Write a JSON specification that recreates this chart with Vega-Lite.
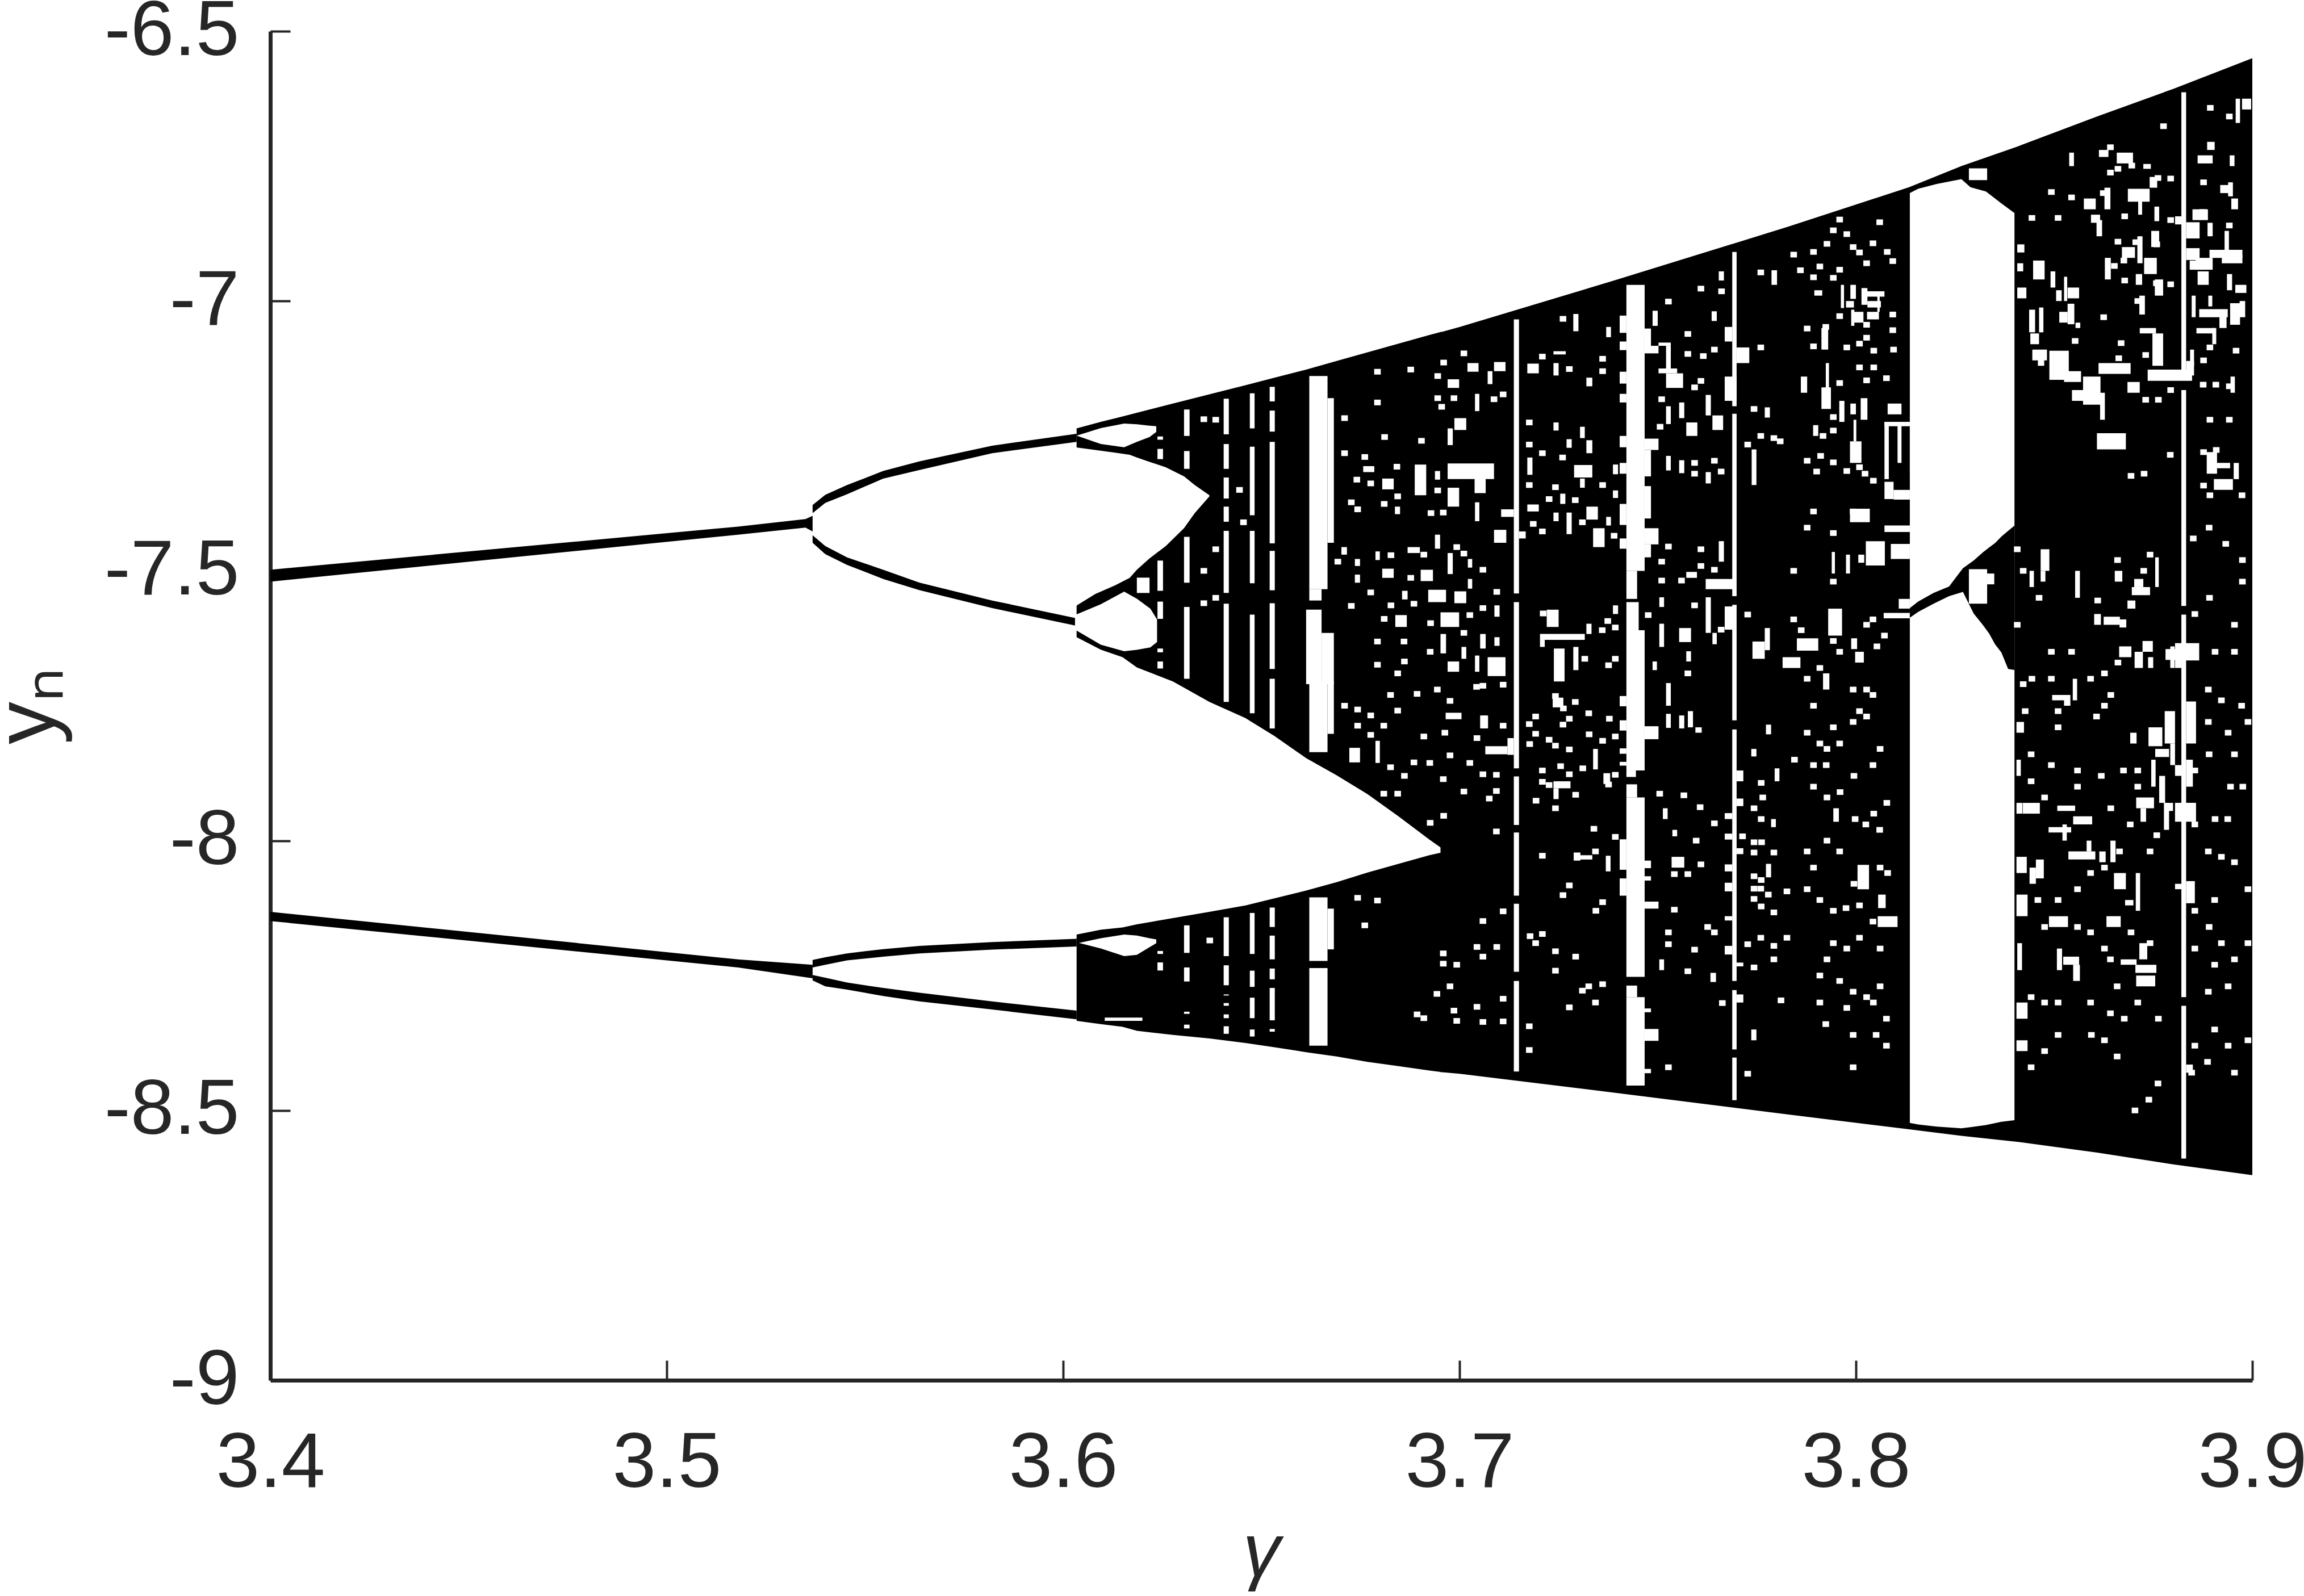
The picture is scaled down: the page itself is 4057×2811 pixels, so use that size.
{"$schema":"https://vega.github.io/schema/vega-lite/v6.json","autosize":"none","width":3490,"height":2376,"padding":{"left":476,"top":55,"right":91,"bottom":380},"background":"white","config":{"view":{"stroke":null}},
"datasets":{
"black":[
{"s":"u0","g":3.4,"t":-7.498,"b":-7.52},{"s":"u0","g":3.518,"t":-7.418,"b":-7.433},{"s":"u0","g":3.535,"t":-7.404,"b":-7.42},{"s":"u0","g":3.5368,"t":-7.398,"b":-7.427},
{"s":"u1","g":3.5368,"t":-7.378,"b":-7.393},{"s":"u1","g":3.54,"t":-7.359,"b":-7.374},{"s":"u1","g":3.5455,"t":-7.341,"b":-7.358},{"s":"u1","g":3.5546,"t":-7.315,"b":-7.329},{"s":"u1","g":3.5638,"t":-7.297,"b":-7.313},{"s":"u1","g":3.5821,"t":-7.268,"b":-7.282},{"s":"u1","g":3.6034,"t":-7.246,"b":-7.261},
{"s":"u2","g":3.5368,"t":-7.434,"b":-7.448},{"s":"u2","g":3.54,"t":-7.454,"b":-7.469},{"s":"u2","g":3.5455,"t":-7.475,"b":-7.489},{"s":"u2","g":3.5546,"t":-7.498,"b":-7.515},{"s":"u2","g":3.5638,"t":-7.522,"b":-7.536},{"s":"u2","g":3.5821,"t":-7.555,"b":-7.569},{"s":"u2","g":3.6034,"t":-7.588,"b":-7.602},
{"s":"l0","g":3.4,"t":-8.132,"b":-8.149},{"s":"l0","g":3.518,"t":-8.22,"b":-8.235},{"s":"l0","g":3.5368,"t":-8.23,"b":-8.255},
{"s":"l1","g":3.5368,"t":-8.221,"b":-8.235},{"s":"l1","g":3.54,"t":-8.216,"b":-8.23},{"s":"l1","g":3.5455,"t":-8.209,"b":-8.222},{"s":"l1","g":3.5546,"t":-8.201,"b":-8.215},{"s":"l1","g":3.5638,"t":-8.195,"b":-8.209},{"s":"l1","g":3.5821,"t":-8.188,"b":-8.202},{"s":"l1","g":3.6034,"t":-8.182,"b":-8.196},
{"s":"l2","g":3.5368,"t":-8.249,"b":-8.259},{"s":"l2","g":3.54,"t":-8.254,"b":-8.27},{"s":"l2","g":3.5455,"t":-8.263,"b":-8.276},{"s":"l2","g":3.5546,"t":-8.273,"b":-8.288},{"s":"l2","g":3.5638,"t":-8.282,"b":-8.298},{"s":"l2","g":3.5821,"t":-8.298,"b":-8.313},{"s":"l2","g":3.6034,"t":-8.315,"b":-8.331},
{"s":"U","g":3.6034,"t":-7.236,"b":-7.623},{"s":"U","g":3.6095,"t":-7.224,"b":-7.646},{"s":"U","g":3.615,"t":-7.214,"b":-7.66},{"s":"U","g":3.6186,"t":-7.207,"b":-7.679},{"s":"U","g":3.6277,"t":-7.19,"b":-7.705},{"s":"U","g":3.6369,"t":-7.173,"b":-7.743},{"s":"U","g":3.646,"t":-7.156,"b":-7.773},{"s":"U","g":3.6533,"t":-7.142,"b":-7.806},{"s":"U","g":3.6613,"t":-7.127,"b":-7.847},{"s":"U","g":3.669,"t":-7.111,"b":-7.879},{"s":"U","g":3.6768,"t":-7.095,"b":-7.914},{"s":"U","g":3.6846,"t":-7.079,"b":-7.955},{"s":"U","g":3.6924,"t":-7.063,"b":-7.998},{"s":"U","g":3.6955,"t":-7.057,"b":-8.014},
{"s":"L","g":3.6034,"t":-8.174,"b":-8.334},{"s":"L","g":3.6095,"t":-8.165,"b":-8.34},{"s":"L","g":3.615,"t":-8.161,"b":-8.345},{"s":"L","g":3.6186,"t":-8.155,"b":-8.3525},{"s":"L","g":3.6277,"t":-8.1435,"b":-8.36},{"s":"L","g":3.6369,"t":-8.132,"b":-8.3666},{"s":"L","g":3.646,"t":-8.12,"b":-8.375},{"s":"L","g":3.6533,"t":-8.107,"b":-8.383},{"s":"L","g":3.6613,"t":-8.0925,"b":-8.392},{"s":"L","g":3.669,"t":-8.077,"b":-8.4},{"s":"L","g":3.6768,"t":-8.059,"b":-8.41},{"s":"L","g":3.6846,"t":-8.043,"b":-8.418},{"s":"L","g":3.6924,"t":-8.027,"b":-8.426},{"s":"L","g":3.6955,"t":-8.022,"b":-8.429},
{"s":"M","g":3.6952,"t":-7.058,"b":-8.429},{"s":"M","g":3.7001,"t":-7.048,"b":-8.432},{"s":"M","g":3.739,"t":-6.962,"b":-8.467},{"s":"M","g":3.783,"t":-6.862,"b":-8.5075},{"s":"M","g":3.8134,"t":-6.789,"b":-8.535},{"s":"M","g":3.8266,"t":-6.75,"b":-8.547},{"s":"M","g":3.8406,"t":-6.714,"b":-8.558},{"s":"M","g":3.8608,"t":-6.658,"b":-8.578},{"s":"M","g":3.88,"t":-6.607,"b":-8.6},{"s":"M","g":3.9,"t":-6.55,"b":-8.62}],
"holes":[
{"s":"big","g":3.603,"t":-7.271,"b":-7.566},{"s":"big","g":3.6081,"t":-7.276,"b":-7.543},{"s":"big","g":3.6131,"t":-7.281,"b":-7.527},{"s":"big","g":3.6168,"t":-7.285,"b":-7.513},{"s":"big","g":3.6186,"t":-7.29,"b":-7.498},{"s":"big","g":3.6218,"t":-7.298,"b":-7.477},{"s":"big","g":3.6259,"t":-7.308,"b":-7.454},{"s":"big","g":3.6305,"t":-7.325,"b":-7.421},{"s":"big","g":3.6332,"t":-7.341,"b":-7.393},{"s":"big","g":3.6369,"t":-7.36,"b":-7.362},
{"s":"a","g":3.6034,"t":-7.2495,"b":-7.2495},{"s":"a","g":3.6095,"t":-7.2355,"b":-7.265},{"s":"a","g":3.6154,"t":-7.227,"b":-7.271},{"s":"a","g":3.6186,"t":-7.2284,"b":-7.261},{"s":"a","g":3.6218,"t":-7.231,"b":-7.252},{"s":"a","g":3.6235,"t":-7.232,"b":-7.2425},
{"s":"c","g":3.603,"t":-7.582,"b":-7.609},{"s":"c","g":3.6095,"t":-7.562,"b":-7.637},{"s":"c","g":3.6154,"t":-7.5384,"b":-7.649},{"s":"c","g":3.6186,"t":-7.5516,"b":-7.6464},{"s":"c","g":3.622,"t":-7.57,"b":-7.642},{"s":"c","g":3.6237,"t":-7.59,"b":-7.632},
{"s":"d","g":3.604,"t":-8.1895,"b":-8.1895},{"s":"d","g":3.6095,"t":-8.181,"b":-8.1999},{"s":"d","g":3.6154,"t":-8.174,"b":-8.214},{"s":"d","g":3.6186,"t":-8.176,"b":-8.2116},{"s":"d","g":3.6218,"t":-8.181,"b":-8.1975},{"s":"d","g":3.6235,"t":-8.183,"b":-8.19},
{"s":"W","g":3.8136,"t":-6.8,"b":-8.523},{"s":"W","g":3.8157,"t":-6.792,"b":-8.526},{"s":"W","g":3.8204,"t":-6.783,"b":-8.53},{"s":"W","g":3.8266,"t":-6.774,"b":-8.533},{"s":"W","g":3.8289,"t":-6.789,"b":-8.531},{"s":"W","g":3.8328,"t":-6.797,"b":-8.527},{"s":"W","g":3.8367,"t":-6.819,"b":-8.521},{"s":"W","g":3.84,"t":-6.837,"b":-8.518}],
"strip":[
{"g":3.8136,"t":-7.569,"b":-7.587},{"g":3.8157,"t":-7.557,"b":-7.576},{"g":3.8196,"t":-7.541,"b":-7.561},{"g":3.8235,"t":-7.529,"b":-7.547},{"g":3.827,"t":-7.495,"b":-7.539},{"g":3.8297,"t":-7.481,"b":-7.579},{"g":3.832,"t":-7.466,"b":-7.6},{"g":3.8336,"t":-7.4566,"b":-7.616},{"g":3.8351,"t":-7.4485,"b":-7.636},{"g":3.8367,"t":-7.4364,"b":-7.6514},{"g":3.8384,"t":-7.426,"b":-7.682},{"g":3.84,"t":-7.4163,"b":-7.6836}],
"rects":[
{"g":3.8285,"g2":3.8331,"y":-7.497,"y2":-7.561},{"g":3.8331,"g2":3.8349,"y":-7.505,"y2":-7.525},{"g":3.8285,"g2":3.8331,"y":-6.754,"y2":-6.776},{"g":3.6186,"g2":3.6218,"y":-7.5126,"y2":-7.541},{"g":3.6105,"g2":3.62,"y":-8.328,"y2":-8.334},
{"g":3.6238,"g2":3.6252,"y":-7.251,"y2":-7.257},{"g":3.6238,"g2":3.6252,"y":-7.274,"y2":-7.293},{"g":3.6238,"g2":3.6252,"y":-7.481,"y2":-7.537},{"g":3.6238,"g2":3.6252,"y":-7.557,"y2":-7.589},{"g":3.6238,"g2":3.6252,"y":-7.644,"y2":-7.651},{"g":3.6238,"g2":3.6252,"y":-7.668,"y2":-7.681},{"g":3.6238,"g2":3.6252,"y":-8.2045,"y2":-8.21},{"g":3.6238,"g2":3.6252,"y":-8.2257,"y2":-8.2407},
{"g":3.6305,"g2":3.6319,"y":-7.201,"y2":-7.25},{"g":3.6305,"g2":3.6319,"y":-7.278,"y2":-7.311},{"g":3.6305,"g2":3.6319,"y":-7.437,"y2":-7.522},{"g":3.6305,"g2":3.6319,"y":-7.567,"y2":-7.7},{"g":3.6305,"g2":3.6319,"y":-8.157,"y2":-8.208},{"g":3.6305,"g2":3.6319,"y":-8.235,"y2":-8.261},{"g":3.6305,"g2":3.6319,"y":-8.317,"y2":-8.321},{"g":3.6305,"g2":3.6319,"y":-8.341,"y2":-8.348},
{"g":3.6405,"g2":3.6418,"y":-7.181,"y2":-7.247},{"g":3.6405,"g2":3.6418,"y":-7.265,"y2":-7.311},{"g":3.6405,"g2":3.6418,"y":-7.327,"y2":-7.366},{"g":3.6405,"g2":3.6418,"y":-7.381,"y2":-7.409},{"g":3.6405,"g2":3.6418,"y":-7.426,"y2":-7.541},{"g":3.6405,"g2":3.6418,"y":-7.561,"y2":-7.743},{"g":3.6405,"g2":3.6418,"y":-8.142,"y2":-8.214},{"g":3.6405,"g2":3.6418,"y":-8.231,"y2":-8.268},{"g":3.6405,"g2":3.6418,"y":-8.285,"y2":-8.287},{"g":3.6405,"g2":3.6418,"y":-8.301,"y2":-8.306},{"g":3.6405,"g2":3.6418,"y":-8.322,"y2":-8.329},{"g":3.6405,"g2":3.6418,"y":-8.344,"y2":-8.358},
{"g":3.6471,"g2":3.6483,"y":-7.171,"y2":-7.236},{"g":3.6471,"g2":3.6483,"y":-7.27,"y2":-7.397},{"g":3.6471,"g2":3.6483,"y":-7.426,"y2":-7.523},{"g":3.6471,"g2":3.6483,"y":-7.581,"y2":-7.764},{"g":3.6471,"g2":3.6483,"y":-8.134,"y2":-8.21},{"g":3.6471,"g2":3.6483,"y":-8.241,"y2":-8.271},{"g":3.6471,"g2":3.6483,"y":-8.291,"y2":-8.329},{"g":3.6471,"g2":3.6483,"y":-8.35,"y2":-8.363},
{"g":3.6521,"g2":3.6534,"y":-7.159,"y2":-7.186},{"g":3.6521,"g2":3.6534,"y":-7.203,"y2":-7.242},{"g":3.6521,"g2":3.6534,"y":-7.261,"y2":-7.449},{"g":3.6521,"g2":3.6534,"y":-7.463,"y2":-7.536},{"g":3.6521,"g2":3.6534,"y":-7.56,"y2":-7.682},{"g":3.6521,"g2":3.6534,"y":-7.7,"y2":-7.792},{"g":3.6521,"g2":3.6534,"y":-8.124,"y2":-8.16},{"g":3.6521,"g2":3.6534,"y":-8.176,"y2":-8.22},{"g":3.6521,"g2":3.6534,"y":-8.237,"y2":-8.257},{"g":3.6521,"g2":3.6534,"y":-8.273,"y2":-8.333},{"g":3.6521,"g2":3.6534,"y":-8.349,"y2":-8.354},
{"g":3.6621,"g2":3.6667,"y":-7.139,"y2":-7.534},{"g":3.6667,"g2":3.6683,"y":-7.18,"y2":-7.448},{"g":3.6621,"g2":3.6652,"y":-7.534,"y2":-7.555},{"g":3.6613,"g2":3.6652,"y":-7.572,"y2":-7.71},{"g":3.6652,"g2":3.6683,"y":-7.615,"y2":-7.71},{"g":3.6621,"g2":3.6667,"y":-7.705,"y2":-7.836},{"g":3.6667,"g2":3.6683,"y":-7.705,"y2":-7.802},{"g":3.6621,"g2":3.6667,"y":-8.105,"y2":-8.223},{"g":3.6667,"g2":3.6683,"y":-8.126,"y2":-8.2015},{"g":3.6621,"g2":3.6667,"y":-8.236,"y2":-8.38},
{"g":3.7137,"g2":3.715,"y":-7.034,"y2":-7.542},{"g":3.7137,"g2":3.715,"y":-7.558,"y2":-7.866},{"g":3.7137,"g2":3.715,"y":-7.881,"y2":-7.971},{"g":3.7137,"g2":3.715,"y":-7.985,"y2":-8.102},{"g":3.7137,"g2":3.715,"y":-8.117,"y2":-8.243},{"g":3.7137,"g2":3.715,"y":-8.26,"y2":-8.428},
{"g":3.7421,"g2":3.7467,"y":-6.97,"y2":-7.5},{"g":3.7421,"g2":3.7448,"y":-7.5,"y2":-7.552},{"g":3.7421,"g2":3.7452,"y":-7.558,"y2":-7.61},{"g":3.7421,"g2":3.7467,"y":-7.61,"y2":-7.87},{"g":3.7421,"g2":3.7445,"y":-7.87,"y2":-7.882},{"g":3.7421,"g2":3.7467,"y":-7.92,"y2":-8.2525},{"g":3.7421,"g2":3.7448,"y":-7.8956,"y2":-7.92},{"g":3.7421,"g2":3.7448,"y":-8.2686,"y2":-8.29},{"g":3.7421,"g2":3.7467,"y":-8.29,"y2":-8.454},
{"g":3.7404,"g2":3.7421,"y":-7.027,"y2":-7.059},{"g":3.7404,"g2":3.7421,"y":-7.075,"y2":-7.091},{"g":3.7404,"g2":3.7421,"y":-7.131,"y2":-7.153},{"g":3.7404,"g2":3.7421,"y":-7.172,"y2":-7.188},{"g":3.7404,"g2":3.7421,"y":-7.25,"y2":-7.271},{"g":3.7404,"g2":3.7421,"y":-7.3,"y2":-7.32},{"g":3.7404,"g2":3.7421,"y":-7.376,"y2":-7.415},{"g":3.7404,"g2":3.7421,"y":-7.44,"y2":-7.459},{"g":3.7467,"g2":3.7483,"y":-7.051,"y2":-7.085},{"g":3.7467,"g2":3.7502,"y":-7.083,"y2":-7.097},{"g":3.7467,"g2":3.7502,"y":-7.255,"y2":-7.276},{"g":3.7467,"g2":3.7483,"y":-7.276,"y2":-7.325},{"g":3.7467,"g2":3.7483,"y":-7.343,"y2":-7.403},{"g":3.7467,"g2":3.7502,"y":-7.421,"y2":-7.451},{"g":3.7467,"g2":3.7483,"y":-7.451,"y2":-7.475},
{"g":3.7404,"g2":3.7421,"y":-7.732,"y2":-7.751},{"g":3.7404,"g2":3.7421,"y":-7.777,"y2":-7.796},{"g":3.7404,"g2":3.7421,"y":-7.829,"y2":-7.839},{"g":3.7404,"g2":3.7421,"y":-7.854,"y2":-7.861},{"g":3.7404,"g2":3.7421,"y":-7.9975,"y2":-8.054},{"g":3.7404,"g2":3.7421,"y":-8.07,"y2":-8.102},{"g":3.7467,"g2":3.7502,"y":-7.788,"y2":-7.812},{"g":3.7467,"g2":3.7483,"y":-8.037,"y2":-8.051},{"g":3.7467,"g2":3.7483,"y":-8.066,"y2":-8.074},{"g":3.7467,"g2":3.7502,"y":-8.113,"y2":-8.126},{"g":3.7467,"g2":3.7502,"y":-8.349,"y2":-8.371},{"g":3.7467,"g2":3.7483,"y":-8.311,"y2":-8.318},{"g":3.7467,"g2":3.7483,"y":-8.423,"y2":-8.431},
{"g":3.7688,"g2":3.7699,"y":-6.909,"y2":-7.195},{"g":3.7669,"g2":3.7688,"y":-7.048,"y2":-7.075},{"g":3.7699,"g2":3.7731,"y":-7.086,"y2":-7.115},{"g":3.7669,"g2":3.7699,"y":-7.14,"y2":-7.185},{"g":3.7688,"g2":3.7699,"y":-7.209,"y2":-7.547},{"g":3.7688,"g2":3.7699,"y":-7.563,"y2":-7.777},{"g":3.7688,"g2":3.7699,"y":-7.794,"y2":-8.26},{"g":3.7688,"g2":3.7699,"y":-8.277,"y2":-8.387},{"g":3.7688,"g2":3.7699,"y":-8.402,"y2":-8.481},{"g":3.7699,"g2":3.7716,"y":-7.87,"y2":-7.89},{"g":3.7699,"g2":3.7716,"y":-7.922,"y2":-7.936},{"g":3.7669,"g2":3.7688,"y":-7.949,"y2":-7.96},{"g":3.7669,"g2":3.7688,"y":-7.987,"y2":-7.998},{"g":3.7699,"g2":3.7716,"y":-8.014,"y2":-8.025},{"g":3.7669,"g2":3.7688,"y":-8.044,"y2":-8.057},{"g":3.7669,"g2":3.7688,"y":-8.078,"y2":-8.094},{"g":3.7669,"g2":3.7688,"y":-8.14,"y2":-8.148},{"g":3.7669,"g2":3.7688,"y":-8.195,"y2":-8.211},{"g":3.7699,"g2":3.7716,"y":-8.226,"y2":-8.233},{"g":3.7699,"g2":3.7716,"y":-8.285,"y2":-8.3},
{"g":3.702,"g2":3.7048,"y":-7.115,"y2":-7.131},{"g":3.7087,"g2":3.7116,"y":-7.113,"y2":-7.13},{"g":3.697,"g2":3.6999,"y":-7.145,"y2":-7.161},{"g":3.7071,"g2":3.7083,"y":-7.13,"y2":-7.154},{"g":3.7171,"g2":3.72,"y":-7.116,"y2":-7.134},{"g":3.7237,"g2":3.7268,"y":-7.093,"y2":-7.099},{"g":3.7237,"g2":3.725,"y":-7.115,"y2":-7.138},{"g":3.732,"g2":3.7335,"y":-7.142,"y2":-7.158},{"g":3.7287,"g2":3.73,"y":-7.024,"y2":-7.056},{"g":3.737,"g2":3.7382,"y":-7.048,"y2":-7.067},{"g":3.7487,"g2":3.75,"y":-7.018,"y2":-7.046},{"g":3.7654,"g2":3.7667,"y":-6.945,"y2":-6.962},{"g":3.7636,"g2":3.7649,"y":-7.019,"y2":-7.037},{"g":3.7787,"g2":3.7801,"y":-6.943,"y2":-6.97},{"g":3.7502,"g2":3.7533,"y":-7.077,"y2":-7.083},{"g":3.7521,"g2":3.7533,"y":-7.083,"y2":-7.126},{"g":3.7502,"g2":3.7549,"y":-7.125,"y2":-7.134},{"g":3.7521,"g2":3.7564,"y":-7.134,"y2":-7.161},{"g":3.7621,"g2":3.7634,"y":-7.174,"y2":-7.212},{"g":3.7638,"g2":3.7665,"y":-7.212,"y2":-7.239},{"g":3.777,"g2":3.7783,"y":-7.197,"y2":-7.216},{"g":3.7554,"g2":3.7567,"y":-7.188,"y2":-7.217},{"g":3.7572,"g2":3.76,"y":-7.225,"y2":-7.25},{"g":3.7521,"g2":3.7533,"y":-7.195,"y2":-7.228},{"g":3.7737,"g2":3.7749,"y":-7.275,"y2":-7.341},{"g":3.7621,"g2":3.7634,"y":-7.317,"y2":-7.338},{"g":3.7554,"g2":3.7567,"y":-7.295,"y2":-7.319},{"g":3.7521,"g2":3.7533,"y":-7.287,"y2":-7.314},{"g":3.7654,"g2":3.7667,"y":-7.445,"y2":-7.483},{"g":3.7621,"g2":3.7689,"y":-7.515,"y2":-7.534},{"g":3.7572,"g2":3.7599,"y":-7.502,"y2":-7.513},{"g":3.7237,"g2":3.725,"y":-7.225,"y2":-7.24},{"g":3.727,"g2":3.7283,"y":-7.256,"y2":-7.272},{"g":3.732,"g2":3.7335,"y":-7.258,"y2":-7.282},{"g":3.7304,"g2":3.7316,"y":-7.233,"y2":-7.254},{"g":3.7387,"g2":3.74,"y":-7.303,"y2":-7.321},{"g":3.7289,"g2":3.7335,"y":-7.304,"y2":-7.327},{"g":3.7171,"g2":3.7184,"y":-7.29,"y2":-7.322},{"g":3.7304,"g2":3.7316,"y":-7.329,"y2":-7.346},{"g":3.7254,"g2":3.7267,"y":-7.357,"y2":-7.376},{"g":3.7171,"g2":3.72,"y":-7.377,"y2":-7.39},{"g":3.727,"g2":3.7283,"y":-7.392,"y2":-7.432},{"g":3.7237,"g2":3.725,"y":-7.392,"y2":-7.408},{"g":3.732,"g2":3.7349,"y":-7.381,"y2":-7.405},{"g":3.737,"g2":3.7382,"y":-7.4,"y2":-7.416},{"g":3.7387,"g2":3.74,"y":-7.351,"y2":-7.365},{"g":3.7337,"g2":3.7366,"y":-7.421,"y2":-7.456},{"g":3.7087,"g2":3.7118,"y":-7.424,"y2":-7.448},{"g":3.715,"g2":3.7167,"y":-7.427,"y2":-7.44},{"g":3.7105,"g2":3.7137,"y":-7.386,"y2":-7.4},{"g":3.7039,"g2":3.705,"y":-7.373,"y2":-7.408},{"g":3.697,"g2":3.6999,"y":-7.346,"y2":-7.381},{"g":3.7038,"g2":3.7066,"y":-7.327,"y2":-7.356},{"g":3.697,"g2":3.7087,"y":-7.301,"y2":-7.33},{"g":3.6887,"g2":3.6916,"y":-7.303,"y2":-7.36},{"g":3.6805,"g2":3.6834,"y":-7.329,"y2":-7.349},{"g":3.6757,"g2":3.6785,"y":-7.306,"y2":-7.317},{"g":3.6938,"g2":3.6951,"y":-7.315,"y2":-7.331},{"g":3.697,"g2":3.6983,"y":-7.236,"y2":-7.267},{"g":3.6987,"g2":3.7017,"y":-7.217,"y2":-7.239},{"g":3.7039,"g2":3.705,"y":-7.172,"y2":-7.204},{"g":3.6837,"g2":3.685,"y":-7.381,"y2":-7.395},{"g":3.6702,"g2":3.6716,"y":-7.456,"y2":-7.47},{"g":3.6736,"g2":3.6749,"y":-7.478,"y2":-7.491},{"g":3.6788,"g2":3.6799,"y":-7.464,"y2":-7.48},{"g":3.6869,"g2":3.69,"y":-7.456,"y2":-7.467},{"g":3.6938,"g2":3.6951,"y":-7.433,"y2":-7.459},{"g":3.697,"g2":3.6983,"y":-7.467,"y2":-7.506},{"g":3.7021,"g2":3.7032,"y":-7.478,"y2":-7.494},{"g":3.6902,"g2":3.6933,"y":-7.498,"y2":-7.519},{"g":3.6805,"g2":3.6834,"y":-7.496,"y2":-7.513},{"g":3.6736,"g2":3.6749,"y":-7.507,"y2":-7.522},{"g":3.7021,"g2":3.7032,"y":-7.515,"y2":-7.533},{"g":3.6987,"g2":3.7017,"y":-7.538,"y2":-7.56},{"g":3.6921,"g2":3.6966,"y":-7.535,"y2":-7.558},{"g":3.6855,"g2":3.6869,"y":-7.537,"y2":-7.553},{"g":3.7088,"g2":3.7101,"y":-7.564,"y2":-7.585},{"g":3.6952,"g2":3.6999,"y":-7.577,"y2":-7.604},{"g":3.6838,"g2":3.6867,"y":-7.582,"y2":-7.604},{"g":3.6952,"g2":3.6966,"y":-7.617,"y2":-7.653},{"g":3.7052,"g2":3.7066,"y":-7.617,"y2":-7.644},{"g":3.7088,"g2":3.7101,"y":-7.623,"y2":-7.639},{"g":3.7005,"g2":3.7017,"y":-7.641,"y2":-7.663},{"g":3.697,"g2":3.6999,"y":-7.668,"y2":-7.687},{"g":3.7039,"g2":3.705,"y":-7.657,"y2":-7.687},{"g":3.7071,"g2":3.7116,"y":-7.66,"y2":-7.695},{"g":3.722,"g2":3.725,"y":-7.572,"y2":-7.604},{"g":3.732,"g2":3.7333,"y":-7.598,"y2":-7.617},{"g":3.7387,"g2":3.74,"y":-7.564,"y2":-7.58},{"g":3.7203,"g2":3.7316,"y":-7.617,"y2":-7.628},{"g":3.7203,"g2":3.7215,"y":-7.628,"y2":-7.641},{"g":3.7504,"g2":3.7516,"y":-7.549,"y2":-7.567},{"g":3.7621,"g2":3.7634,"y":-7.549,"y2":-7.615},{"g":3.7554,"g2":3.7584,"y":-7.606,"y2":-7.632},{"g":3.7669,"g2":3.7689,"y":-7.566,"y2":-7.609},{"g":3.7739,"g2":3.777,"y":-7.631,"y2":-7.663},{"g":3.7504,"g2":3.7516,"y":-7.598,"y2":-7.641},{"g":3.7572,"g2":3.7584,"y":-7.649,"y2":-7.668},{"g":3.7638,"g2":3.7649,"y":-7.615,"y2":-7.636},{"g":3.777,"g2":3.7783,"y":-7.606,"y2":-7.647},{"g":3.7238,"g2":3.7265,"y":-7.644,"y2":-7.705},{"g":3.7287,"g2":3.73,"y":-7.641,"y2":-7.684},{"g":3.7487,"g2":3.7498,"y":-7.668,"y2":-7.684},
{"g":3.7059,"g2":3.7072,"y":-7.768,"y2":-7.792},{"g":3.7235,"g2":3.7262,"y":-7.735,"y2":-7.753},{"g":3.7237,"g2":3.728,"y":-7.89,"y2":-7.903},{"g":3.7237,"g2":3.725,"y":-7.903,"y2":-7.923},{"g":3.7337,"g2":3.7349,"y":-7.83,"y2":-7.868},{"g":3.7121,"g2":3.7137,"y":-7.81,"y2":-7.841},{"g":3.7065,"g2":3.7121,"y":-7.825,"y2":-7.84},{"g":3.6722,"g2":3.6749,"y":-7.828,"y2":-7.855},{"g":3.6788,"g2":3.6799,"y":-7.815,"y2":-7.856},{"g":3.6965,"g2":3.7005,"y":-7.763,"y2":-7.775},{"g":3.7052,"g2":3.7066,"y":-7.768,"y2":-7.792},{"g":3.7288,"g2":3.7305,"y":-8.022,"y2":-8.037},{"g":3.7303,"g2":3.7335,"y":-8.027,"y2":-8.035},{"g":3.7369,"g2":3.7381,"y":-8.028,"y2":-8.057},{"g":3.7363,"g2":3.738,"y":-7.875,"y2":-7.895},{"g":3.7535,"g2":3.7567,"y":-8.03,"y2":-8.05},
{"g":3.7521,"g2":3.7533,"y":-7.765,"y2":-7.791},{"g":3.7554,"g2":3.7567,"y":-7.768,"y2":-7.792},{"g":3.7521,"g2":3.7533,"y":-7.708,"y2":-7.75},{"g":3.7595,"g2":3.7611,"y":-7.79,"y2":-7.8},{"g":3.7576,"g2":3.7589,"y":-7.76,"y2":-7.79},{"g":3.7773,"g2":3.7786,"y":-7.785,"y2":-7.803},{"g":3.7736,"g2":3.7749,"y":-7.83,"y2":-7.844},{"g":3.7795,"g2":3.7807,"y":-7.866,"y2":-7.89},{"g":3.7786,"g2":3.7798,"y":-7.96,"y2":-7.975},{"g":3.7773,"g2":3.7786,"y":-8.043,"y2":-8.068},{"g":3.7736,"g2":3.7749,"y":-8.35,"y2":-8.37},{"g":3.7537,"g2":3.7549,"y":-7.98,"y2":-7.992},{"g":3.7513,"g2":3.7525,"y":-7.94,"y2":-7.96},{"g":3.7504,"g2":3.7516,"y":-8.22,"y2":-8.24},{"g":3.7633,"g2":3.7647,"y":-8.245,"y2":-8.262},
{"g":3.8136,"g2":3.8147,"y":-7.224,"y2":-7.32},{"g":3.8072,"g2":3.8083,"y":-7.224,"y2":-7.33},{"g":3.8072,"g2":3.8136,"y":-7.224,"y2":-7.232},{"g":3.8105,"g2":3.8115,"y":-7.224,"y2":-7.3},{"g":3.8088,"g2":3.8136,"y":-7.45,"y2":-7.478},{"g":3.8072,"g2":3.8136,"y":-7.416,"y2":-7.428},{"g":3.8108,"g2":3.8136,"y":-7.552,"y2":-7.57},{"g":3.807,"g2":3.8136,"y":-7.578,"y2":-7.588},{"g":3.7985,"g2":3.8035,"y":-7.385,"y2":-7.41},{"g":3.8072,"g2":3.8095,"y":-7.335,"y2":-7.367},{"g":3.8095,"g2":3.8136,"y":-7.35,"y2":-7.368},
{"g":3.8821,"g2":3.8833,"y":-6.613,"y2":-7.138},{"g":3.8821,"g2":3.8833,"y":-7.165,"y2":-7.565},{"g":3.8821,"g2":3.8833,"y":-7.581,"y2":-8.29},{"g":3.8821,"g2":3.8833,"y":-8.306,"y2":-8.589},{"g":3.8833,"g2":3.8867,"y":-6.854,"y2":-6.884},{"g":3.8833,"g2":3.8867,"y":-6.902,"y2":-6.924},{"g":3.8805,"g2":3.8821,"y":-6.843,"y2":-6.858},{"g":3.8833,"g2":3.8853,"y":-7.111,"y2":-7.138},{"g":3.8805,"g2":3.8866,"y":-7.634,"y2":-7.666},{"g":3.8833,"g2":3.8858,"y":-7.742,"y2":-7.82},{"g":3.8805,"g2":3.8858,"y":-7.93,"y2":-7.965},{"g":3.8833,"g2":3.8855,"y":-8.075,"y2":-8.116},{"g":3.8805,"g2":3.8821,"y":-7.86,"y2":-7.88},{"g":3.8805,"g2":3.8821,"y":-8.08,"y2":-8.09},{"g":3.8833,"g2":3.885,"y":-8.415,"y2":-8.43},{"g":3.8833,"g2":3.885,"y":-7.85,"y2":-7.9},
{"g":3.7962,"g2":3.797,"y":-6.97,"y2":-7.013},{"g":3.7988,"g2":3.7996,"y":-7.016,"y2":-7.046},{"g":3.7895,"g2":3.7915,"y":-6.98,"y2":-6.99},{"g":3.7986,"g2":3.8,"y":-6.97,"y2":-6.996},{"g":3.7975,"g2":3.7995,"y":-7.0,"y2":-7.012},{"g":3.8014,"g2":3.8029,"y":-6.976,"y2":-7.007},{"g":3.8024,"g2":3.8072,"y":-6.982,"y2":-6.992},{"g":3.8054,"g2":3.806,"y":-6.99,"y2":-7.02},{"g":3.8029,"g2":3.8063,"y":-7.0,"y2":-7.012},{"g":3.8028,"g2":3.8058,"y":-7.02,"y2":-7.034},{"g":3.7995,"g2":3.8019,"y":-7.02,"y2":-7.04},{"g":3.7861,"g2":3.7877,"y":-7.14,"y2":-7.17},{"g":3.7913,"g2":3.793,"y":-7.05,"y2":-7.09},{"g":3.7924,"g2":3.7932,"y":-7.115,"y2":-7.165},{"g":3.7913,"g2":3.7937,"y":-7.16,"y2":-7.2},{"g":3.7958,"g2":3.7971,"y":-7.185,"y2":-7.224},{"g":3.7986,"g2":3.8,"y":-7.19,"y2":-7.21},{"g":3.8012,"g2":3.8029,"y":-7.18,"y2":-7.22},{"g":3.7994,"g2":3.8001,"y":-7.22,"y2":-7.26},{"g":3.808,"g2":3.8115,"y":-7.19,"y2":-7.21},{"g":3.7892,"g2":3.7905,"y":-7.23,"y2":-7.25},{"g":3.7985,"g2":3.8014,"y":-7.26,"y2":-7.3},
{"g":3.8407,"g2":3.8425,"y":-6.895,"y2":-6.91},{"g":3.8407,"g2":3.8422,"y":-6.93,"y2":-6.945},{"g":3.8407,"g2":3.843,"y":-6.975,"y2":-6.995},{"g":3.8447,"g2":3.8476,"y":-6.925,"y2":-6.96},{"g":3.8491,"g2":3.8503,"y":-6.945,"y2":-6.975},{"g":3.8525,"g2":3.8533,"y":-6.955,"y2":-7.0},{"g":3.8534,"g2":3.8563,"y":-6.975,"y2":-6.995},{"g":3.8462,"g2":3.8473,"y":-7.012,"y2":-7.058},{"g":3.8437,"g2":3.8452,"y":-7.016,"y2":-7.058},{"g":3.8513,"g2":3.8534,"y":-7.02,"y2":-7.04},{"g":3.8534,"g2":3.8551,"y":-7.005,"y2":-7.043},{"g":3.8554,"g2":3.8566,"y":-7.04,"y2":-7.05},{"g":3.8505,"g2":3.8519,"y":-6.98,"y2":-7.0},{"g":3.844,"g2":3.8462,"y":-7.06,"y2":-7.08},{"g":3.8445,"g2":3.8482,"y":-7.09,"y2":-7.11},{"g":3.8459,"g2":3.8475,"y":-7.1,"y2":-7.12},{"g":3.8488,"g2":3.8537,"y":-7.092,"y2":-7.146},{"g":3.8525,"g2":3.8568,"y":-7.13,"y2":-7.15},{"g":3.8573,"g2":3.8617,"y":-7.14,"y2":-7.192},{"g":3.8545,"g2":3.8578,"y":-7.165,"y2":-7.185},{"g":3.8616,"g2":3.8628,"y":-7.17,"y2":-7.22},{"g":3.8608,"g2":3.8681,"y":-7.245,"y2":-7.275},{"g":3.8612,"g2":3.8693,"y":-7.115,"y2":-7.135},{"g":3.8685,"g2":3.8716,"y":-7.15,"y2":-7.17},{"g":3.8748,"g2":3.8775,"y":-7.06,"y2":-7.12},{"g":3.8736,"g2":3.8848,"y":-7.127,"y2":-7.148},{"g":3.8715,"g2":3.8729,"y":-6.99,"y2":-7.025},{"g":3.8716,"g2":3.8757,"y":-7.05,"y2":-7.06},{"g":3.8627,"g2":3.8642,"y":-6.79,"y2":-6.83},{"g":3.8753,"g2":3.8765,"y":-6.825,"y2":-6.852},{"g":3.8613,"g2":3.8637,"y":-6.72,"y2":-6.733},{"g":3.8658,"g2":3.8699,"y":-6.725,"y2":-6.745},{"g":3.8725,"g2":3.8744,"y":-6.746,"y2":-6.755},{"g":3.8712,"g2":3.8722,"y":-6.815,"y2":-6.84},{"g":3.8686,"g2":3.8741,"y":-6.792,"y2":-6.816},{"g":3.8741,"g2":3.876,"y":-6.77,"y2":-6.79},{"g":3.8575,"g2":3.8605,"y":-6.81,"y2":-6.83},{"g":3.8538,"g2":3.855,"y":-6.725,"y2":-6.75},{"g":3.8607,"g2":3.8621,"y":-6.85,"y2":-6.88},{"g":3.8593,"g2":3.8616,"y":-6.84,"y2":-6.855},{"g":3.8745,"g2":3.8765,"y":-6.87,"y2":-6.9},{"g":3.871,"g2":3.8723,"y":-6.88,"y2":-6.93},{"g":3.8628,"g2":3.8643,"y":-6.92,"y2":-6.96},{"g":3.8671,"g2":3.8704,"y":-6.9,"y2":-6.92},{"g":3.8727,"g2":3.8759,"y":-6.92,"y2":-6.95},{"g":3.8754,"g2":3.8775,"y":-6.96,"y2":-6.99},{"g":3.8706,"g2":3.8722,"y":-6.95,"y2":-6.97},
{"g":3.8849,"g2":3.8888,"y":-6.83,"y2":-6.85},{"g":3.8842,"g2":3.8882,"y":-6.925,"y2":-6.942},{"g":3.8939,"g2":3.8951,"y":-6.78,"y2":-6.806},{"g":3.8947,"g2":3.8964,"y":-6.81,"y2":-6.83},{"g":3.8919,"g2":3.895,"y":-6.785,"y2":-6.8},{"g":3.8974,"g2":3.8997,"y":-6.625,"y2":-6.645},{"g":3.8958,"g2":3.8969,"y":-6.625,"y2":-6.67},{"g":3.8943,"g2":3.8955,"y":-6.73,"y2":-6.75},{"g":3.8862,"g2":3.89,"y":-6.73,"y2":-6.745},{"g":3.8886,"g2":3.8905,"y":-6.705,"y2":-6.72},{"g":3.8887,"g2":3.89,"y":-6.855,"y2":-6.88},{"g":3.893,"g2":3.8941,"y":-6.87,"y2":-6.91},{"g":3.8892,"g2":3.8975,"y":-6.905,"y2":-6.92},{"g":3.8923,"g2":3.8975,"y":-6.915,"y2":-6.93},{"g":3.8936,"g2":3.8949,"y":-6.95,"y2":-6.98},{"g":3.8857,"g2":3.89,"y":-6.92,"y2":-6.942},{"g":3.8862,"g2":3.889,"y":-6.945,"y2":-6.97},{"g":3.8957,"g2":3.8985,"y":-6.97,"y2":-6.985},{"g":3.8889,"g2":3.8899,"y":-6.99,"y2":-7.01},{"g":3.8847,"g2":3.8857,"y":-6.99,"y2":-7.03},{"g":3.8917,"g2":3.8935,"y":-7.02,"y2":-7.05},{"g":3.8968,"g2":3.8982,"y":-7.0,"y2":-7.03},{"g":3.8866,"g2":3.8938,"y":-7.015,"y2":-7.03},{"g":3.8944,"g2":3.8969,"y":-7.004,"y2":-7.044},{"g":3.8859,"g2":3.8905,"y":-7.05,"y2":-7.06},{"g":3.8899,"g2":3.8909,"y":-7.05,"y2":-7.08},{"g":3.8843,"g2":3.8853,"y":-7.09,"y2":-7.12},{"g":3.8945,"g2":3.8956,"y":-7.14,"y2":-7.17},
{"g":3.8885,"g2":3.8911,"y":-7.28,"y2":-7.32},{"g":3.8886,"g2":3.8944,"y":-7.3,"y2":-7.31},{"g":3.8953,"g2":3.8966,"y":-7.3,"y2":-7.33},{"g":3.8903,"g2":3.8951,"y":-7.33,"y2":-7.35},
{"g":3.7939,"g2":3.7947,"y":-7.465,"y2":-7.505},{"g":3.7975,"g2":3.7985,"y":-7.47,"y2":-7.505},{"g":3.8006,"g2":3.8021,"y":-7.47,"y2":-7.485},{"g":3.8025,"g2":3.8073,"y":-7.445,"y2":-7.49},{"g":3.793,"g2":3.7965,"y":-7.57,"y2":-7.62},{"g":3.7851,"g2":3.7905,"y":-7.625,"y2":-7.648},{"g":3.7815,"g2":3.786,"y":-7.66,"y2":-7.68},{"g":3.7917,"g2":3.7933,"y":-7.69,"y2":-7.72},{"g":3.7988,"g2":3.8003,"y":-7.625,"y2":-7.645},{"g":3.7998,"g2":3.802,"y":-7.65,"y2":-7.67},
{"g":3.7943,"g2":3.7957,"y":-7.94,"y2":-7.965},{"g":3.8004,"g2":3.8033,"y":-8.045,"y2":-8.09},{"g":3.8056,"g2":3.8075,"y":-8.1,"y2":-8.125},{"g":3.8055,"g2":3.8105,"y":-8.14,"y2":-8.16},
{"g":3.8466,"g2":3.8488,"y":-7.46,"y2":-7.5},{"g":3.8466,"g2":3.8478,"y":-7.5,"y2":-7.52},{"g":3.8553,"g2":3.8565,"y":-7.5,"y2":-7.55},{"g":3.8601,"g2":3.8618,"y":-7.58,"y2":-7.6},{"g":3.8653,"g2":3.8672,"y":-7.5,"y2":-7.52},{"g":3.8755,"g2":3.8764,"y":-7.475,"y2":-7.53},{"g":3.8702,"g2":3.8725,"y":-7.515,"y2":-7.53},{"g":3.8696,"g2":3.8742,"y":-7.53,"y2":-7.545},{"g":3.8625,"g2":3.8666,"y":-7.585,"y2":-7.6},{"g":3.8665,"g2":3.8682,"y":-7.59,"y2":-7.605},{"g":3.8685,"g2":3.8705,"y":-7.555,"y2":-7.57},{"g":3.8664,"g2":3.8695,"y":-7.64,"y2":-7.66},{"g":3.8723,"g2":3.8749,"y":-7.63,"y2":-7.65},{"g":3.8703,"g2":3.8724,"y":-7.65,"y2":-7.68},{"g":3.8737,"g2":3.875,"y":-7.66,"y2":-7.68},{"g":3.8781,"g2":3.881,"y":-7.645,"y2":-7.665},{"g":3.8793,"g2":3.8804,"y":-7.64,"y2":-7.68},{"g":3.8692,"g2":3.8708,"y":-7.8,"y2":-7.82},{"g":3.8738,"g2":3.8773,"y":-7.79,"y2":-7.825},{"g":3.8755,"g2":3.879,"y":-7.83,"y2":-7.845},{"g":3.8805,"g2":3.8821,"y":-7.65,"y2":-7.68},{"g":3.8779,"g2":3.8805,"y":-7.76,"y2":-7.82},{"g":3.8793,"g2":3.8805,"y":-7.82,"y2":-7.86},{"g":3.8745,"g2":3.8756,"y":-7.85,"y2":-7.9},{"g":3.8765,"g2":3.878,"y":-7.88,"y2":-7.93},{"g":3.8777,"g2":3.879,"y":-7.93,"y2":-7.98},{"g":3.8707,"g2":3.8752,"y":-7.92,"y2":-7.94},{"g":3.8718,"g2":3.8732,"y":-7.94,"y2":-7.965},{"g":3.8779,"g2":3.88,"y":-7.93,"y2":-7.945},
{"g":3.8438,"g2":3.8449,"y":-7.5,"y2":-7.53},{"g":3.8495,"g2":3.8533,"y":-7.73,"y2":-7.74},{"g":3.8525,"g2":3.8541,"y":-7.73,"y2":-7.75},{"g":3.8547,"g2":3.8558,"y":-7.7,"y2":-7.74},{"g":3.8508,"g2":3.8553,"y":-7.935,"y2":-7.945},{"g":3.8548,"g2":3.8596,"y":-7.955,"y2":-7.97},{"g":3.8536,"g2":3.8604,"y":-8.02,"y2":-8.035},{"g":3.8486,"g2":3.8543,"y":-7.975,"y2":-7.985},{"g":3.8454,"g2":3.8474,"y":-8.035,"y2":-8.07},{"g":3.8521,"g2":3.8532,"y":-7.97,"y2":-8.0},{"g":3.8582,"g2":3.8594,"y":-8.0,"y2":-8.02},{"g":3.8614,"g2":3.863,"y":-8.02,"y2":-8.04},{"g":3.8642,"g2":3.8655,"y":-8.0,"y2":-8.04},{"g":3.8651,"g2":3.8681,"y":-8.06,"y2":-8.09},{"g":3.8706,"g2":3.8717,"y":-8.06,"y2":-8.13},{"g":3.8679,"g2":3.87,"y":-8.11,"y2":-8.12},{"g":3.8421,"g2":3.8464,"y":-7.93,"y2":-7.95},{"g":3.8438,"g2":3.8454,"y":-8.05,"y2":-8.08},{"g":3.8487,"g2":3.8535,"y":-8.14,"y2":-8.16},{"g":3.8507,"g2":3.852,"y":-8.2,"y2":-8.24},{"g":3.8523,"g2":3.8563,"y":-8.215,"y2":-8.23},{"g":3.8548,"g2":3.8565,"y":-8.23,"y2":-8.26},{"g":3.8632,"g2":3.8668,"y":-8.14,"y2":-8.16},{"g":3.8668,"g2":3.8708,"y":-8.22,"y2":-8.23},{"g":3.8715,"g2":3.8735,"y":-8.19,"y2":-8.22},{"g":3.8705,"g2":3.8758,"y":-8.23,"y2":-8.245},{"g":3.8707,"g2":3.8755,"y":-8.25,"y2":-8.27},{"g":3.8407,"g2":3.8419,"y":-8.19,"y2":-8.24},{"g":3.8405,"g2":3.8433,"y":-8.37,"y2":-8.39},{"g":3.8405,"g2":3.8433,"y":-8.3,"y2":-8.33},{"g":3.8405,"g2":3.8433,"y":-8.1,"y2":-8.14},{"g":3.8405,"g2":3.8431,"y":-8.03,"y2":-8.06},{"g":3.8405,"g2":3.8424,"y":-7.78,"y2":-7.8},{"g":3.8405,"g2":3.8416,"y":-7.85,"y2":-7.88},{"g":3.8405,"g2":3.842,"y":-7.93,"y2":-7.95}],
"dots":[
{"g":3.6793,"y":-7.131},{"g":3.6793,"y":-7.188},{"g":3.671,"y":-7.217},{"g":3.6877,"y":-7.127},{"g":3.696,"y":-7.114},{"g":3.7011,"y":-7.097},{"g":3.6945,"y":-7.139},{"g":3.7209,"y":-7.103},{"g":3.7277,"y":-7.126},{"g":3.7361,"y":-7.107},{"g":3.7361,"y":-7.13},{"g":3.7261,"y":-7.033},{"g":3.7527,"y":-7.001},{"g":3.7609,"y":-6.977},{"g":3.776,"y":-6.947},{"g":3.7661,"y":-6.982},{"g":3.7576,"y":-7.061},{"g":3.7643,"y":-7.09},{"g":3.7576,"y":-7.098},{"g":3.7615,"y":-7.102},{"g":3.776,"y":-7.086},{"g":3.7593,"y":-7.16},{"g":3.7609,"y":-7.148},{"g":3.751,"y":-7.182},{"g":3.7743,"y":-7.2},{"g":3.7506,"y":-7.233},{"g":3.7727,"y":-7.266},{"g":3.7643,"y":-7.296},{"g":3.766,"y":-7.316},{"g":3.7593,"y":-7.3},{"g":3.7593,"y":-7.32},{"g":3.776,"y":-7.25},{"g":3.7793,"y":-7.254},{"g":3.7809,"y":-7.26},{"g":3.7527,"y":-7.455},{"g":3.7609,"y":-7.46},{"g":3.751,"y":-7.483},{"g":3.7609,"y":-7.491},{"g":3.7643,"y":-7.498},{"g":3.751,"y":-7.518},{"g":3.756,"y":-7.518},{"g":3.7176,"y":-7.225},{"g":3.7176,"y":-7.266},{"g":3.7209,"y":-7.282},{"g":3.726,"y":-7.29},{"g":3.7176,"y":-7.341},{"g":3.7242,"y":-7.345},{"g":3.7361,"y":-7.341},{"g":3.7226,"y":-7.367},{"g":3.7292,"y":-7.369},{"g":3.731,"y":-7.41},{"g":3.7209,"y":-7.427},{"g":3.7186,"y":-7.413},{"g":3.739,"y":-7.435},{"g":3.6959,"y":-7.392},{"g":3.6928,"y":-7.393},{"g":3.681,"y":-7.376},{"g":3.6743,"y":-7.386},{"g":3.6727,"y":-7.373},{"g":3.6844,"y":-7.362},{"g":3.6945,"y":-7.351},{"g":3.6776,"y":-7.338},{"g":3.6741,"y":-7.331},{"g":3.671,"y":-7.282},{"g":3.6761,"y":-7.289},{"g":3.6842,"y":-7.307},{"g":3.6904,"y":-7.259},{"g":3.6811,"y":-7.252},{"g":3.6986,"y":-7.18},{"g":3.7087,"y":-7.182},{"g":3.711,"y":-7.173},{"g":3.6955,"y":-7.196},{"g":3.6945,"y":-7.18},{"g":3.6693,"y":-7.483},{"g":3.6827,"y":-7.471},{"g":3.691,"y":-7.47},{"g":3.7011,"y":-7.468},{"g":3.6993,"y":-7.456},{"g":3.7059,"y":-7.498},{"g":3.6877,"y":-7.513},{"g":3.7094,"y":-7.539},{"g":3.6776,"y":-7.54},{"g":3.6885,"y":-7.561},{"g":3.6827,"y":-7.564},{"g":3.6727,"y":-7.565},{"g":3.7059,"y":-7.569},{"g":3.7026,"y":-7.582},{"g":3.6927,"y":-7.597},{"g":3.681,"y":-7.589},{"g":3.6793,"y":-7.631},{"g":3.686,"y":-7.631},{"g":3.7011,"y":-7.615},{"g":3.6926,"y":-7.65},{"g":3.6844,"y":-7.69},{"g":3.6793,"y":-7.674},{"g":3.6861,"y":-7.668},{"g":3.7211,"y":-7.579},{"g":3.736,"y":-7.61},{"g":3.7374,"y":-7.593},{"g":3.7393,"y":-7.605},{"g":3.7476,"y":-7.582},{"g":3.7593,"y":-7.564},{"g":3.766,"y":-7.609},{"g":3.7727,"y":-7.581},{"g":3.7316,"y":-7.663},{"g":3.7376,"y":-7.675},{"g":3.7393,"y":-7.663},{"g":3.7576,"y":-7.69},
{"g":3.637,"y":-8.185},{"g":3.6355,"y":-7.219},{"g":3.6385,"y":-7.22},{"g":3.6355,"y":-7.5},{"g":3.6385,"y":-7.46},{"g":3.6385,"y":-7.55},{"g":3.6355,"y":-7.56},{"g":3.6445,"y":-7.35},{"g":3.6455,"y":-7.41},{"g":3.664,"y":-7.26},
{"g":3.671,"y":-7.75},{"g":3.6743,"y":-7.757},{"g":3.6844,"y":-7.759},{"g":3.6826,"y":-7.73},{"g":3.6893,"y":-7.728},{"g":3.6944,"y":-7.72},{"g":3.6976,"y":-7.741},{"g":3.7059,"y":-7.713},{"g":3.7043,"y":-7.715},{"g":3.711,"y":-7.711},{"g":3.7044,"y":-7.81},{"g":3.6776,"y":-7.768},{"g":3.6743,"y":-7.787},{"g":3.6809,"y":-7.787},{"g":3.711,"y":-7.787},{"g":3.6963,"y":-7.8},{"g":3.691,"y":-7.807},{"g":3.6776,"y":-7.804},{"g":3.7176,"y":-7.784},{"g":3.7192,"y":-7.77},{"g":3.7261,"y":-7.785},{"g":3.7277,"y":-7.774},{"g":3.7326,"y":-7.764},{"g":3.7242,"y":-7.732},{"g":3.7292,"y":-7.743},{"g":3.7262,"y":-7.755},{"g":3.7378,"y":-7.774},{"g":3.7393,"y":-7.807},{"g":3.7361,"y":-7.815},{"g":3.7327,"y":-7.803},{"g":3.7192,"y":-7.802},{"g":3.7226,"y":-7.813},{"g":3.7177,"y":-7.821},{"g":3.7277,"y":-7.831},{"g":3.7242,"y":-7.824},{"g":3.6976,"y":-7.842},{"g":3.6885,"y":-7.855},{"g":3.6925,"y":-7.856},{"g":3.7026,"y":-7.856},{"g":3.6826,"y":-7.864},{"g":3.6861,"y":-7.88},{"g":3.6959,"y":-7.886},{"g":3.7059,"y":-7.877},{"g":3.7093,"y":-7.878},{"g":3.7011,"y":-7.909},{"g":3.7093,"y":-7.908},{"g":3.7075,"y":-7.922},{"g":3.6926,"y":-7.967},{"g":3.6809,"y":-7.913},{"g":3.6844,"y":-7.913},{"g":3.696,"y":-7.954},{"g":3.7093,"y":-7.983},{"g":3.7209,"y":-7.87},{"g":3.7277,"y":-7.877},{"g":3.7255,"y":-7.862},{"g":3.7311,"y":-7.866},{"g":3.7209,"y":-7.891},{"g":3.7226,"y":-7.897},{"g":3.7293,"y":-7.915},{"g":3.7193,"y":-7.926},{"g":3.7242,"y":-7.94},{"g":3.7393,"y":-7.878},{"g":3.7376,"y":-7.896},{"g":3.7339,"y":-7.978},{"g":3.7393,"y":-7.993},{"g":3.7209,"y":-8.028},{"g":3.7343,"y":-8.02},{"g":3.7277,"y":-8.083},{"g":3.7261,"y":-8.101},{"g":3.7361,"y":-8.114},{"g":3.7344,"y":-8.13},{"g":3.711,"y":-8.131},{"g":3.7059,"y":-8.149},{"g":3.6743,"y":-8.106},{"g":3.6793,"y":-8.111},{"g":3.6761,"y":-8.157},{"g":3.7178,"y":-8.177},{"g":3.7192,"y":-8.19},{"g":3.7242,"y":-8.205},{"g":3.7293,"y":-8.215},{"g":3.7209,"y":-8.173},{"g":3.7242,"y":-8.241},{"g":3.7094,"y":-8.197},{"g":3.7044,"y":-8.197},{"g":3.6959,"y":-8.209},{"g":3.7059,"y":-8.215},{"g":3.6959,"y":-8.228},{"g":3.6993,"y":-8.23},{"g":3.6976,"y":-8.27},{"g":3.6943,"y":-8.284},{"g":3.711,"y":-8.293},{"g":3.7044,"y":-8.308},{"g":3.6986,"y":-8.315},{"g":3.7277,"y":-8.309},{"g":3.731,"y":-8.278},{"g":3.7343,"y":-8.3},{"g":3.7361,"y":-8.266},{"g":3.7326,"y":-8.27},{"g":3.6893,"y":-8.322},{"g":3.691,"y":-8.329},{"g":3.7059,"y":-8.336},{"g":3.711,"y":-8.335},{"g":3.6993,"y":-8.334},{"g":3.7176,"y":-8.344},{"g":3.7176,"y":-8.388},
{"g":3.7714,"y":-7.992},{"g":3.7761,"y":-7.893},{"g":3.7607,"y":-7.938},{"g":3.7566,"y":-7.916},{"g":3.7505,"y":-7.913},{"g":3.7643,"y":-7.968},{"g":3.7743,"y":-7.94},{"g":3.7761,"y":-7.96},{"g":3.7765,"y":-7.92},{"g":3.7597,"y":-8.0},{"g":3.7743,"y":-8.003},{"g":3.7762,"y":-8.003},{"g":3.7793,"y":-8.022},{"g":3.7743,"y":-8.022},{"g":3.7609,"y":-8.044},{"g":3.7542,"y":-8.062},{"g":3.7576,"y":-8.062},{"g":3.7743,"y":-8.066},{"g":3.7761,"y":-8.073},{"g":3.7743,"y":-8.089},{"g":3.776,"y":-8.089},{"g":3.7779,"y":-8.1},{"g":3.7826,"y":-8.094},{"g":3.7542,"y":-8.128},{"g":3.7761,"y":-8.122},{"g":3.7743,"y":-8.108},{"g":3.7793,"y":-8.133},{"g":3.7626,"y":-8.16},{"g":3.7643,"y":-8.17},{"g":3.7527,"y":-8.17},{"g":3.7527,"y":-8.192},{"g":3.7593,"y":-8.202},{"g":3.7727,"y":-8.192},{"g":3.776,"y":-8.18},{"g":3.7793,"y":-8.195},{"g":3.7826,"y":-8.18},{"g":3.7793,"y":-8.22},{"g":3.7743,"y":-8.235},{"g":3.7576,"y":-8.242},{"g":3.7663,"y":-8.301},{"g":3.7811,"y":-8.296},{"g":3.7527,"y":-8.42},{"g":3.7727,"y":-8.432},
{"g":3.7959,"y":-6.849},{"g":3.7943,"y":-6.869},{"g":3.7977,"y":-6.876},{"g":3.7927,"y":-6.894},{"g":3.8043,"y":-6.893},{"g":3.7993,"y":-6.9},{"g":3.8009,"y":-6.91},{"g":3.7893,"y":-6.909},{"g":3.7843,"y":-6.914},{"g":3.8079,"y":-6.909},{"g":3.806,"y":-6.854},{"g":3.786,"y":-6.943},{"g":3.7909,"y":-6.936},{"g":3.7959,"y":-6.942},{"g":3.8027,"y":-6.93},{"g":3.8093,"y":-6.926},{"g":3.7893,"y":-6.956},{"g":3.7943,"y":-6.957},{"g":3.8093,"y":-7.025},{"g":3.7959,"y":-7.028},{"g":3.8093,"y":-7.054},{"g":3.8027,"y":-7.044},{"g":3.7924,"y":-7.048},{"g":3.7877,"y":-7.051},{"g":3.8027,"y":-7.068},{"g":3.8009,"y":-7.079},{"g":3.7893,"y":-7.084},{"g":3.7977,"y":-7.086},{"g":3.8045,"y":-7.092},{"g":3.8095,"y":-7.09},{"g":3.8009,"y":-7.123},{"g":3.8045,"y":-7.123},{"g":3.8027,"y":-7.147},{"g":3.7959,"y":-7.152},{"g":3.8077,"y":-7.143},{"g":3.7943,"y":-7.215},{"g":3.7917,"y":-7.25},{"g":3.7943,"y":-7.24},{"g":3.7911,"y":-7.287},{"g":3.7877,"y":-7.296},{"g":3.7943,"y":-7.299},{"g":3.8009,"y":-7.308},{"g":3.8044,"y":-7.333},{"g":3.8023,"y":-7.32},{"g":3.7977,"y":-7.315},{"g":3.7901,"y":-7.316},
{"g":3.8444,"y":-6.846},{"g":3.851,"y":-6.846},{"g":3.8493,"y":-6.798},{"g":3.8544,"y":-6.808},{"g":3.8642,"y":-6.762},{"g":3.8661,"y":-6.755},{"g":3.8696,"y":-6.749},{"g":3.8642,"y":-6.715},{"g":3.8776,"y":-6.676},{"g":3.8624,"y":-6.8},{"g":3.8762,"y":-6.772},{"g":3.8794,"y":-6.773},{"g":3.8678,"y":-6.843},{"g":3.8794,"y":-6.85},{"g":3.8661,"y":-6.89},{"g":3.8706,"y":-6.891},{"g":3.8759,"y":-6.895},{"g":3.8652,"y":-6.935},{"g":3.8676,"y":-6.925},{"g":3.8678,"y":-6.962},{"g":3.8758,"y":-6.967},{"g":3.8794,"y":-6.969},{"g":3.8625,"y":-7.03},{"g":3.8669,"y":-7.078},{"g":3.8731,"y":-7.1},{"g":3.8553,"y":-7.074},{"g":3.8663,"y":-7.106},{"g":3.8711,"y":-7.0},{"g":3.8731,"y":-7.183},{"g":3.8763,"y":-7.183},{"g":3.8794,"y":-7.165},{"g":3.8694,"y":-7.324},{"g":3.8727,"y":-7.32},{"g":3.8793,"y":-7.285},
{"g":3.8877,"y":-6.78},{"g":3.8942,"y":-6.86},{"g":3.8894,"y":-6.642},{"g":3.8942,"y":-6.658},{"g":3.8875,"y":-6.835},{"g":3.8893,"y":-7.086},{"g":3.8959,"y":-7.092},{"g":3.8877,"y":-7.11},{"g":3.8876,"y":-7.155},{"g":3.8908,"y":-7.155},{"g":3.8942,"y":-7.158},{"g":3.8877,"y":-7.28},{"g":3.8909,"y":-7.276},{"g":3.8893,"y":-7.22},{"g":3.8942,"y":-7.22},{"g":3.8877,"y":-7.342},{"g":3.8893,"y":-7.36},{"g":3.8974,"y":-7.36},
{"g":3.7843,"y":-7.59},{"g":3.7862,"y":-7.61},{"g":3.7943,"y":-7.63},{"g":3.7943,"y":-7.52},{"g":3.7843,"y":-7.5},{"g":3.7877,"y":-7.42},{"g":3.7893,"y":-7.39},{"g":3.7993,"y":-7.39},{"g":3.7943,"y":-7.43},{"g":3.7877,"y":-7.7},{"g":3.7909,"y":-7.68},{"g":3.7993,"y":-7.72},{"g":3.8027,"y":-7.72},{"g":3.7959,"y":-7.65},{"g":3.8053,"y":-7.64},{"g":3.8027,"y":-7.6},{"g":3.8072,"y":-7.62},{"g":3.8043,"y":-7.59},{"g":3.8009,"y":-7.76},{"g":3.8027,"y":-7.77},{"g":3.8043,"y":-7.73},{"g":3.7993,"y":-7.78},{"g":3.7943,"y":-7.79},{"g":3.7893,"y":-7.75},{"g":3.7877,"y":-7.8},{"g":3.7909,"y":-7.82},{"g":3.7959,"y":-7.82},{"g":3.8061,"y":-7.83},{"g":3.8043,"y":-7.86},{"g":3.7995,"y":-7.88},{"g":3.7927,"y":-7.83},{"g":3.7845,"y":-7.85},{"g":3.7893,"y":-7.86},{"g":3.7925,"y":-7.86},{"g":3.7893,"y":-7.9},{"g":3.7927,"y":-7.92},{"g":3.796,"y":-7.91},{"g":3.7998,"y":-7.96},{"g":3.8025,"y":-7.97},{"g":3.806,"y":-7.98},{"g":3.8045,"y":-7.95},{"g":3.8078,"y":-7.93},{"g":3.7877,"y":-8.02},{"g":3.7927,"y":-8.0},{"g":3.7893,"y":-8.05},{"g":3.7959,"y":-8.02},{"g":3.7995,"y":-8.08},{"g":3.8061,"y":-8.05},{"g":3.808,"y":-8.06},{"g":3.7877,"y":-8.09},{"g":3.7909,"y":-8.11},{"g":3.7943,"y":-8.13},{"g":3.7975,"y":-8.125},{"g":3.8009,"y":-8.12},{"g":3.7943,"y":-8.19},{"g":3.7977,"y":-8.2},{"g":3.7927,"y":-8.22},{"g":3.8009,"y":-8.18},{"g":3.8043,"y":-8.15},{"g":3.8061,"y":-8.2},{"g":3.7909,"y":-8.25},{"g":3.7959,"y":-8.26},{"g":3.7993,"y":-8.28},{"g":3.8027,"y":-8.29},{"g":3.8061,"y":-8.27},{"g":3.7909,"y":-8.3},{"g":3.7977,"y":-8.31},{"g":3.8044,"y":-8.3},{"g":3.8077,"y":-8.33},{"g":3.7993,"y":-8.36},{"g":3.8051,"y":-8.36},{"g":3.8077,"y":-8.38},{"g":3.7924,"y":-8.34},{"g":3.7993,"y":-8.42},
{"g":3.8407,"y":-7.46},{"g":3.8422,"y":-7.5},{"g":3.8462,"y":-7.55},{"g":3.8407,"y":-7.6},{"g":3.8422,"y":-7.71},{"g":3.8444,"y":-7.7},{"g":3.8493,"y":-7.65},{"g":3.8493,"y":-7.7},{"g":3.8544,"y":-7.65},{"g":3.861,"y":-7.555},{"g":3.866,"y":-7.48},{"g":3.8726,"y":-7.5},{"g":3.8742,"y":-7.47},{"g":3.851,"y":-7.76},{"g":3.8427,"y":-7.76},{"g":3.851,"y":-7.79},{"g":3.8607,"y":-7.77},{"g":3.8627,"y":-7.75},{"g":3.8643,"y":-7.73},{"g":3.8661,"y":-7.67},{"g":3.8627,"y":-7.69},{"g":3.8592,"y":-7.7},{"g":3.8442,"y":-7.84},{"g":3.8493,"y":-7.86},{"g":3.8559,"y":-7.87},{"g":3.8619,"y":-7.88},{"g":3.8675,"y":-7.87},{"g":3.8711,"y":-7.87},{"g":3.8442,"y":-7.89},{"g":3.8476,"y":-7.92},{"g":3.8559,"y":-7.9},{"g":3.8643,"y":-7.94},{"g":3.8711,"y":-7.9},{"g":3.8759,"y":-7.99},{"g":3.8742,"y":-8.02},{"g":3.8692,"y":-7.97},{"g":3.8665,"y":-8.02},{"g":3.8627,"y":-8.05},{"g":3.8592,"y":-8.06},{"g":3.8559,"y":-8.09},{"g":3.851,"y":-8.11},{"g":3.8459,"y":-8.11},{"g":3.8476,"y":-8.16},{"g":3.8559,"y":-8.16},{"g":3.8592,"y":-8.17},{"g":3.8627,"y":-8.2},{"g":3.8694,"y":-8.17},{"g":3.8742,"y":-8.19},{"g":3.8642,"y":-8.22},{"g":3.8442,"y":-8.29},{"g":3.8476,"y":-8.3},{"g":3.851,"y":-8.3},{"g":3.8592,"y":-8.3},{"g":3.8642,"y":-8.32},{"g":3.8677,"y":-8.33},{"g":3.8659,"y":-8.27},{"g":3.8711,"y":-8.3},{"g":3.8763,"y":-8.33},{"g":3.8627,"y":-8.37},{"g":3.8659,"y":-8.4},{"g":3.8476,"y":-8.39},{"g":3.8442,"y":-8.42},{"g":3.851,"y":-8.36},{"g":3.8594,"y":-8.36},{"g":3.8762,"y":-8.45},{"g":3.8739,"y":-8.48},{"g":3.8704,"y":-8.5},
{"g":3.8891,"y":-7.42},{"g":3.8851,"y":-7.44},{"g":3.8933,"y":-7.45},{"g":3.8975,"y":-7.48},{"g":3.8975,"y":-7.52},{"g":3.8892,"y":-7.55},{"g":3.8855,"y":-7.58},{"g":3.8955,"y":-7.6},{"g":3.8906,"y":-7.65},{"g":3.8955,"y":-7.65},{"g":3.8989,"y":-7.78},{"g":3.8889,"y":-7.72},{"g":3.8922,"y":-7.74},{"g":3.8973,"y":-7.75},{"g":3.8889,"y":-7.78},{"g":3.8939,"y":-7.8},{"g":3.8891,"y":-7.84},{"g":3.8955,"y":-7.84},{"g":3.8855,"y":-7.87},{"g":3.8945,"y":-7.9},{"g":3.8906,"y":-7.96},{"g":3.8855,"y":-7.97},{"g":3.8938,"y":-7.96},{"g":3.8976,"y":-7.9},{"g":3.8989,"y":-8.09},{"g":3.8889,"y":-8.02},{"g":3.8922,"y":-8.03},{"g":3.8955,"y":-8.04},{"g":3.8905,"y":-8.11},{"g":3.8855,"y":-8.13},{"g":3.8891,"y":-8.16},{"g":3.8989,"y":-8.19},{"g":3.8855,"y":-8.2},{"g":3.8922,"y":-8.19},{"g":3.8955,"y":-8.22},{"g":3.8905,"y":-8.23},{"g":3.8939,"y":-8.27},{"g":3.8889,"y":-8.28},{"g":3.8855,"y":-8.38},{"g":3.8939,"y":-8.38},{"g":3.8905,"y":-8.35},{"g":3.8887,"y":-8.41},{"g":3.8955,"y":-8.43},{"g":3.8847,"y":-8.43},{"g":3.8989,"y":-8.37}]
},
"layer":[
{"data":{"name":"black"},"mark":{"type":"area","color":"black","interpolate":"linear"},"encoding":{"x":{"field":"g","type":"quantitative","scale":{"domain":[3.4,3.9],"nice":false,"zero":false},"axis":{"values":[3.4,3.5,3.6,3.7,3.8,3.9],"format":".1f","title":"γ","grid":false,"domainColor":"#262626","domainWidth":7,"tickColor":"#262626","tickWidth":4,"tickSize":-35,"labelFont":"Liberation Sans","labelFontSize":138,"labelColor":"#262626","labelPadding":113,"labelLimit":800,"titleFont":"Liberation Sans","titleFontSize":132,"titleFontStyle":"italic","titleFontWeight":"normal","titleColor":"#262626","titlePadding":40,"labelFlush":false,"labelOverlap":false}},"y":{"field":"t","type":"quantitative","scale":{"domain":[-9,-6.5],"nice":false,"zero":false},"axis":{"values":[-9,-8.5,-8,-7.5,-7,-6.5],"labelExpr":"''+datum.value","title":"yₙ","grid":false,"domainColor":"#262626","domainWidth":7,"tickColor":"#262626","tickWidth":4,"tickSize":-35,"labelFont":"Liberation Sans","labelFontSize":138,"labelColor":"#262626","labelPadding":90,"labelLimit":800,"titleFont":"Liberation Sans","titleFontSize":150,"titleFontWeight":"normal","titleColor":"#262626","titlePadding":150,"labelFlush":false,"labelOverlap":false}},"y2":{"field":"b"},"detail":{"field":"s"}}},
{"data":{"name":"holes"},"mark":{"type":"area","color":"white","interpolate":"linear"},"encoding":{"x":{"field":"g","type":"quantitative"},"y":{"field":"t","type":"quantitative"},"y2":{"field":"b"},"detail":{"field":"s"}}},
{"data":{"name":"strip"},"mark":{"type":"area","color":"black","interpolate":"linear"},"encoding":{"x":{"field":"g","type":"quantitative"},"y":{"field":"t","type":"quantitative"},"y2":{"field":"b"}}},
{"data":{"name":"rects"},"mark":{"type":"rect","color":"white"},"encoding":{"x":{"field":"g","type":"quantitative"},"x2":{"field":"g2"},"y":{"field":"y","type":"quantitative"},"y2":{"field":"y2"}}},
{"data":{"name":"dots"},"mark":{"type":"rect","color":"white","width":11.6,"height":10},"encoding":{"x":{"field":"g","type":"quantitative"},"y":{"field":"y","type":"quantitative"}}}
]}
